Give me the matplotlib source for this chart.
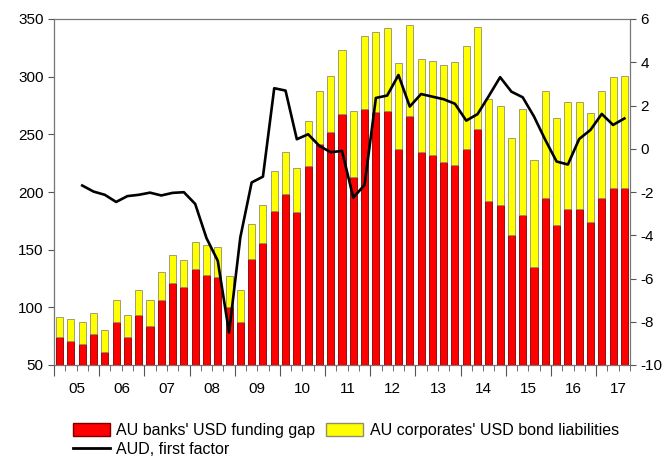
import numpy as np
import matplotlib
matplotlib.use("Agg")
import matplotlib.pyplot as plt
from matplotlib.patches import Patch
from matplotlib.lines import Line2D

plt.rcParams['font.family'] = ['Liberation Sans', 'DejaVu Sans']
plt.rcParams['axes.unicode_minus'] = False

# quarterly, 2005Q1 .. 2017Q3
years = ["05", "06", "07", "08", "09", "10", "11", "12", "13", "14", "15", "16", "17"]

banks = [74, 71, 68.5, 77, 61, 87.5, 74, 93.5, 84, 106.5, 121, 118, 133, 128, 126, 100.5, 87,
         141.5, 156, 183.5, 198, 183, 222.5, 241.5, 252, 267.5, 213, 272, 269, 270, 237.5, 266,
         234.5, 232, 226, 223, 237.5, 254.5, 192, 189, 162.5, 180, 135, 194.5, 171.5, 185, 185,
         174, 194.5, 203.5, 203.5]
total = [92, 90, 87, 95, 80, 106.5, 93.5, 115, 106.5, 130.5, 145, 141, 156.5, 154, 152.5, 127, 115,
         172, 188.5, 218, 234.5, 220.5, 261.5, 287.5, 300.5, 323, 270, 335, 338.5, 342.5, 311.5, 345,
         315, 313.5, 310, 312.5, 326.5, 343, 280.5, 274.5, 247, 272, 227.5, 288, 264, 278, 278,
         268.5, 287.5, 299.5, 301]
corporates = [t - b for t, b in zip(total, banks)]

# AUD factor starts in 2005Q3
aud = [np.nan, np.nan, -1.70, -1.98, -2.13, -2.46, -2.19, -2.13, -2.03, -2.16, -2.04, -2.01, -2.55,
       -4.13, -5.18, -8.50, -4.09, -1.56, -1.29, 2.80, 2.69, 0.44, 0.67, 0.13, -0.16, -0.10, -2.26,
       -1.67, 2.35, 2.46, 3.41, 1.95, 2.53, 2.41, 2.29, 2.08, 1.30, 1.60, 2.44, 3.31, 2.64, 2.38,
       1.49, 0.41, -0.59, -0.73, 0.45, 0.87, 1.61, 1.10, 1.40]

x = np.arange(len(banks))

fig = plt.figure(figsize=(6.66, 4.59), dpi=100)
ax = fig.add_axes([54/666, 1-365/459, 576/666, 346/459])

ax.bar(x, banks, width=0.62, color='#ff0000', edgecolor='#7a0000', linewidth=0.6, zorder=2)
ax.bar(x, corporates, bottom=banks, width=0.62, color='#ffff00', edgecolor='#8f8f70',
       linewidth=0.6, zorder=2)
ax.set_ylim(50, 350)
ax.set_yticks(range(50, 351, 50))
ax.set_xlim(-0.5, len(banks) - 0.5)

ax2 = ax.twinx()
ax2.plot(x, aud, color='black', lw=1.9, zorder=3)
ax2.set_ylim(-10, 6)
ax2.set_yticks(range(-10, 7, 2))

# x ticks: year boundaries long, quarters short, labels centred in each year
ax.set_xticks(np.arange(-0.5, len(banks), 4))
ax.set_xticks(np.arange(-0.5, len(banks), 1), minor=True)
ax.tick_params(axis='x', which='major', length=8, labelbottom=False, color='#555555')
ax.tick_params(axis='x', which='minor', length=4, color='#555555')
sec = ax.secondary_xaxis('bottom')
sec.set_xticks(np.arange(1.5, len(banks), 4), years)
sec.tick_params(length=0, pad=12, labelsize=11)
sec.spines['bottom'].set_visible(False)

ax.tick_params(axis='y', length=4, labelsize=11, color='#555555')
ax2.tick_params(axis='y', length=4, labelsize=11, color='#555555')
for a in (ax, ax2):
    for s in a.spines.values():
        s.set_color('#777777')
ax.spines['bottom'].set_color('#333333')
ax.spines['left'].set_color('#333333')

handles = [Patch(facecolor='#ff0000', edgecolor='#7a0000'),
           Line2D([], [], color='black', lw=2),
           Patch(facecolor='#ffff00', edgecolor='#8f8f70')]
labels = ["AU banks' USD funding gap", "AUD, first factor", "AU corporates' USD bond liabilities"]
fig.legend(handles, labels, loc='upper left', bbox_to_anchor=(62/666, 1-412/459), ncol=2,
           frameon=False, fontsize=11.5, handlelength=2.3, handleheight=0.85, columnspacing=0.7,
           labelspacing=0.25, handletextpad=0.4, borderpad=0.2)

fig.savefig("out.png", dpi=100)
